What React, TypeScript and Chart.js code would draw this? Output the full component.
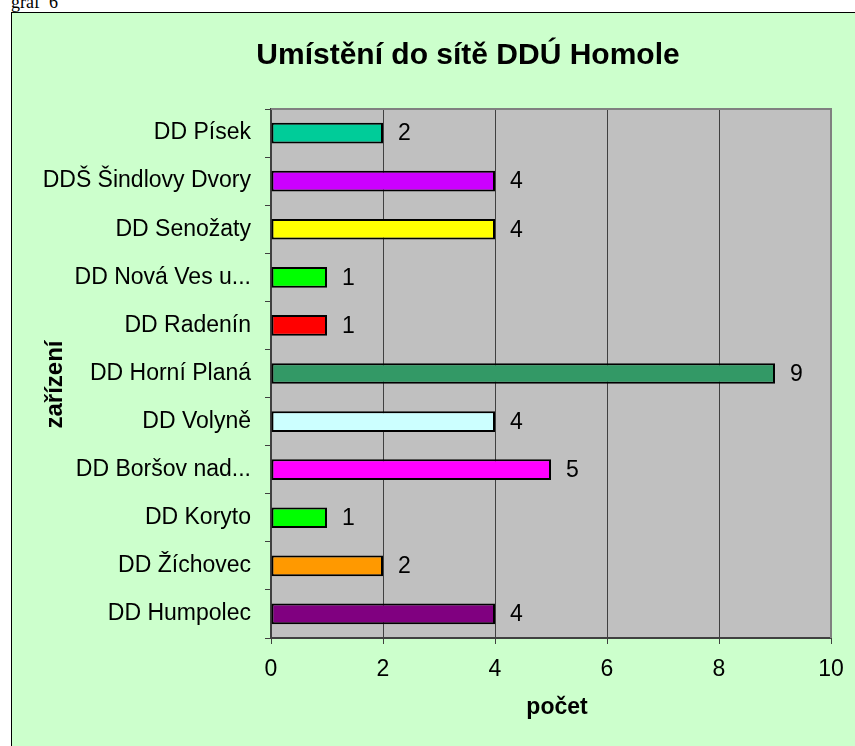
import React, { useEffect, useRef } from "react";
import { Chart, registerables } from "chart.js";

Chart.register(...registerables);

const pageCaption = "graf  6";
const chartTitle = "Umístění do sítě DDÚ Homole";
const yAxisTitle = "zařízení";
const xAxisTitle = "počet";

const categories = [
  "DD Písek",
  "DDŠ Šindlovy Dvory",
  "DD Senožaty",
  "DD Nová Ves u...",
  "DD Radenín",
  "DD Horní Planá",
  "DD Volyně",
  "DD Boršov nad...",
  "DD Koryto",
  "DD Žíchovec",
  "DD Humpolec",
];

const counts = [2, 4, 4, 1, 1, 9, 4, 5, 1, 2, 4];

const barColors = [
  "#00CC99",
  "#CC00FF",
  "#FFFF00",
  "#00FF00",
  "#FF0000",
  "#339966",
  "#CCFFFF",
  "#FF00FF",
  "#00FF00",
  "#FF9900",
  "#800080",
];

const xMin = 0;
const xMax = 10;
const xStep = 2;

const FONT = "Arial, 'Liberation Sans', sans-serif";

const plotBackground = {
  id: "plotBackground",
  beforeDraw(chart: any) {
    const { ctx, chartArea } = chart;
    ctx.save();
    ctx.fillStyle = "#C0C0C0";
    ctx.fillRect(chartArea.left, chartArea.top, chartArea.right - chartArea.left, chartArea.bottom - chartArea.top);
    ctx.restore();
  },
  beforeDatasetsDraw(chart: any) {
    const { ctx, chartArea } = chart;
    ctx.save();
    ctx.strokeStyle = "#808080";
    ctx.lineWidth = 2;
    ctx.beginPath();
    ctx.moveTo(chartArea.left, chartArea.top);
    ctx.lineTo(chartArea.right, chartArea.top);
    ctx.lineTo(chartArea.right, chartArea.bottom);
    ctx.stroke();
    ctx.restore();
  },
};

const axisTitles = {
  id: "axisTitles",
  afterDraw(chart: any) {
    const { ctx, chartArea } = chart;
    ctx.save();
    ctx.fillStyle = "#000000";
    ctx.textAlign = "center";
    ctx.textBaseline = "middle";
    // x-axis title
    ctx.font = `bold 23px ${FONT}`;
    ctx.fillText(xAxisTitle, (chartArea.left + chartArea.right) / 2 + 6, chartArea.bottom + 70);
    // y-axis title
    ctx.font = `bold 24px ${FONT}`;
    ctx.translate(43, (chartArea.top + chartArea.bottom) / 2 + 11);
    ctx.rotate(-Math.PI / 2);
    ctx.fillText(yAxisTitle, 0, 0);
    ctx.restore();
  },
};

const valueLabels = {
  id: "valueLabels",
  afterDatasetsDraw(chart: any) {
    const { ctx } = chart;
    const meta = chart.getDatasetMeta(0);
    const data = chart.data.datasets[0].data;
    ctx.save();
    ctx.font = `23px ${FONT}`;
    ctx.fillStyle = "#000000";
    ctx.textAlign = "left";
    ctx.textBaseline = "middle";
    meta.data.forEach((bar: any, i: number) => {
      ctx.fillText(String(data[i]), bar.x + 15, bar.y + 1);
    });
    ctx.restore();
  },
};

function BarChart() {
  const ref = useRef<HTMLCanvasElement>(null);
  useEffect(() => {
    if (!ref.current) return;
    const chart = new Chart(ref.current, {
      type: "bar",
      data: {
        labels: categories,
        datasets: [
          {
            data: counts,
            backgroundColor: barColors,
            borderColor: "#000000",
            borderWidth: 2,
            borderSkipped: false,
            barPercentage: 0.43,
            categoryPercentage: 1,
          },
        ],
      },
      options: {
        indexAxis: "y",
        responsive: false,
        animation: false,
        devicePixelRatio: 1,
        layout: { padding: { left: 0, right: 0, top: 0, bottom: 0 } },
        plugins: {
          legend: { display: false },
          tooltip: { enabled: false },
          title: {
            display: true,
            text: chartTitle,
            color: "#000000",
            font: { family: FONT, size: 30, weight: "bold", lineHeight: 1.2 },
            padding: { top: 25, bottom: 35 },
          },
        },
        scales: {
          x: {
            type: "linear",
            position: "bottom",
            min: xMin,
            max: xMax,
            ticks: {
              stepSize: xStep,
              color: "#000000",
              font: { family: FONT, size: 23 },
              padding: 12,
            },
            grid: { color: "#404040", lineWidth: 1, tickLength: 6, tickColor: "#404040" },
            border: { color: "#404040", width: 2 },
            title: { display: false },
            afterFit(scale: any) {
              scale.height = 135;
            },
          },
          y: {
            type: "category",
            position: "left",
            ticks: {
              color: "#000000",
              font: { family: FONT, size: 23 },
              padding: 14,
              autoSkip: false,
            },
            grid: {
              offset: true,
              drawOnChartArea: false,
              drawTicks: true,
              tickLength: 6,
              color: "#404040",
              tickColor: "#404040",
            },
            border: { color: "#404040", width: 1.5 },
            title: { display: false },
            afterFit(scale: any) {
              scale.width = 259;
            },
          },
          yRight: {
            type: "category",
            position: "right",
            display: true,
            ticks: { display: false },
            grid: { display: false, drawTicks: false },
            border: { display: false },
            afterFit(scale: any) {
              scale.width = 93;
            },
          },
        },
      },
      plugins: [plotBackground, valueLabels, axisTitles],
    } as any);
    return () => chart.destroy();
  }, []);
  return <canvas ref={ref} width={912} height={760} style={{ display: "block" }} />;
}

export default function App() {
  return (
    <div
      style={{
        position: "relative",
        width: 855,
        height: 746,
        overflow: "hidden",
        background: "#FFFFFF",
      }}
    >
      <style>{`body{margin:0}`}</style>
      <div
        style={{
          position: "absolute",
          left: 11,
          top: -8,
          fontFamily: "'Liberation Serif', 'Times New Roman', serif",
          fontSize: 18,
          whiteSpace: "pre",
          lineHeight: "normal",
          color: "#000000",
        }}
      >
        {pageCaption}
      </div>
      <div
        style={{
          position: "absolute",
          left: 11,
          top: 12,
          border: "1px solid #000000",
          background: "#CCFFCC",
          width: 912,
          height: 760,
        }}
      >
        <BarChart />
      </div>
    </div>
  );
}
